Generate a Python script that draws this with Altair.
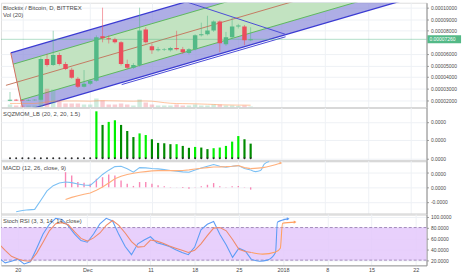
import altair as alt
import pandas as pd

FONT = "Liberation Sans"
TEXT = "#4a4a4a"
GRID = "#eef1f5"
UP, DOWN = "#53b987", "#eb4d5c"
E5 = 1e-5

# ---------------- time axis (days since 20 Nov 2017) ----------------
tick_days = [0, 11, 21, 28, 35, 42, 49, 56, 63]
tick_labels = ["20", "Dec", "11", "18", "25", "2018", "8", "15", "22"]
x_domain = [-2.66, 64.7]

# ---------------- candles (price in 1e-5 BTC) ----------------
days = list(range(-2, 38))
opens = [1.95, 2.03, 2.00, 1.96, 1.98, 2.02, 5.56, 5.04, 5.90, 5.13, 4.62, 3.85, 3.16, 3.42, 3.68,
         7.52, 7.35, 7.26, 7.01, 5.13, 4.79, 5.04, 8.12, 6.67, 6.32, 6.35, 6.32, 6.50, 6.41, 6.07,
         6.41, 7.61, 7.69, 8.03, 8.80, 6.84, 7.44, 8.38, 8.38, 7.18]
closes = [2.03, 1.96, 1.96, 2.00, 2.02, 5.56, 5.04, 5.90, 5.13, 4.70, 3.93, 3.16, 3.42, 3.68, 7.44,
          7.35, 7.26, 7.01, 5.13, 4.79, 5.04, 8.03, 7.01, 6.32, 6.41, 6.41, 6.50, 6.41, 6.15, 6.41,
          7.61, 7.69, 8.03, 8.80, 6.92, 7.44, 8.38, 8.46, 7.18, 7.26]
highs = [2.70, 2.10, 2.05, 2.05, 2.06, 5.70, 6.00, 8.00, 6.10, 5.30, 4.80, 4.00, 4.60, 3.80, 7.60,
         10.0, 7.60, 7.40, 7.10, 5.50, 5.20, 10.0, 8.30, 6.90, 6.60, 6.50, 6.60, 8.00, 6.60, 6.50,
         7.70, 8.70, 9.30, 8.90, 8.90, 7.90, 9.15, 8.60, 8.50, 8.30]
lows = [1.90, 1.92, 1.92, 1.93, 1.95, 1.98, 4.90, 4.95, 5.00, 4.60, 3.85, 3.05, 3.10, 3.30, 3.60,
        7.00, 6.90, 6.90, 5.00, 4.70, 4.70, 4.90, 6.90, 6.00, 6.20, 6.25, 6.20, 6.30, 6.00, 5.95,
        6.30, 7.50, 7.60, 7.90, 6.15, 6.70, 7.30, 8.20, 6.75, 7.10]
volume = [30, 20, 20, 20, 20, 100, 190, 180, 60, 40, 40, 40, 30, 30, 90, 70, 30, 30, 40, 30,
          20, 80, 50, 30, 20, 20, 20, 30, 20, 20, 30, 20, 20, 30, 30, 20, 20, 15, 20, 10]
vol_ma = [40, 40, 40, 40, 40, 45, 55, 63, 64, 65, 65, 65, 64, 63, 66, 68, 67, 66, 65, 64,
          63, 65, 65, 63, 56, 48, 42, 39, 38, 37, 36, 34, 32, 30, 26, 25, 24, 23, 23, 22]

# ---------------- drawn channel (day, price 1e-5) ----------------
chan_mid_day = 11.41          # anchor day of the regression mid line
chan_mid_price = 5.47         # mid line price at the anchor
chan_slope = 0.1559           # price per day
chan_green_half = 1.65        # half width of inner (green) band
chan_blue_half = 2.68         # half width of outer (blue) band
chan_edge_day = -1.875        # left edge starts at blue upper line on this day
chan_edge_slope = -2.505      # slope of the slanted left edge (price per day)
chan_end_day = 64.7
mid_start_day = -2.66
desc_line = [(20.78, 11.52), (42.66, 7.69)]
lower2_line = [(16.1, 3.34), (42.66, 7.48)]

# ---------------- SQZMOM ----------------
sqz_days = list(range(12, 38))
sqz_vals = [5.14, 3.65, 3.98, 4.16, 3.65, 2.97, 2.32, 2.72, 2.54, 2.08, 1.68, 1.64, 1.54, 1.54,
            1.35, 1.14, 1.24, 1.17, 1.00, 1.10, 1.17, 1.35, 1.82, 2.43, 2.08, 1.60]
sqz_colors = ["#00f000", "#008a00", "#00f000", "#00f000", "#008a00", "#008a00", "#008a00", "#00f000",
              "#00f000", "#008a00", "#008a00", "#008a00", "#008a00", "#00f000", "#008a00", "#008a00",
              "#00f000", "#008a00", "#008a00", "#00f000", "#00f000", "#00f000", "#00f000", "#00f000",
              "#008a00", "#008a00"]

# ---------------- MACD (1e-5) ----------------
macd_days = list(range(-1, 38))
macd_vals = [-1.70, -1.62, -1.57, -1.54, -0.90, -0.25, 0.12, 0.30, 0.37, 0.33, 0.24, 0.17, 0.14,
             0.50, 0.90, 1.20, 1.45, 1.47, 1.30, 1.06, 1.38, 1.36, 1.32, 1.29, 1.24, 1.18, 1.12,
             1.08, 1.06, 1.22, 1.35, 1.48, 1.59, 1.47, 1.40, 1.48, 1.52, 1.32, 1.21]
sig_days = list(range(7, 38))
sig_vals = [-0.85, -0.70, -0.58, -0.48, -0.39, -0.20, 0.02, 0.30, 0.60, 0.78, 0.90, 0.98, 1.05,
            1.10, 1.15, 1.17, 1.17, 1.17, 1.17, 1.18, 1.22, 1.28, 1.33, 1.38, 1.42, 1.43, 1.45,
            1.48, 1.52, 1.38, 1.31]
hist_vals = [1.06, 0.83, 0.37, 0.32, 0.25, 0.60, 0.71, 0.90, 0.83, 0.48, 0.25, 0.10, 0.37, 0.37,
             0.25, 0.14, 0.07, 0.02, 0.01, -0.05, -0.09, 0.02, 0.07, 0.18, 0.30, 0.07, 0.02, 0.07,
             0.09, -0.02, -0.16]
macd_proj_d = [37, 37.8, 38.6, 39.2, 40.0]
macd_proj_v = [1.21, 1.10, 1.17, 1.63, 1.81]
sig_proj_d = [37, 39.0, 41.9]
sig_proj_v = [1.31, 1.38, 1.70]

# ---------------- Stoch RSI ----------------
st_days = list(range(-3, 38))
st_k = [24, 15, 18, 22, 13, 17, 42, 68, 86, 97, 95, 83, 68, 56, 53, 68, 87, 97, 92, 67,
        45, 30, 50, 57, 63, 52, 49, 45, 39, 34, 30, 44, 76, 86, 91, 67, 48, 25, 42, 37, 21]
st_d = [50, 38, 27, 22, 19, 18, 33, 53, 74, 87, 89, 85, 72, 60, 55, 61, 70, 84, 93, 84,
        70, 54, 44, 45, 57, 55, 51, 46, 42, 38, 34, 38, 50, 65, 79, 80, 74, 58, 40, 36, 34]
k_proj_d = [37, 38.3, 39.5, 40.8, 41.1, 42.8]
k_proj_v = [21, 18, 20, 34, 90, 96]
d_proj_d = [37, 38.75, 40.8, 41.56, 41.9, 43.9]
d_proj_v = [34, 31, 35, 42, 88, 90]
stoch_band = [20, 80]

# ======================================================================
lbl_expr = "''"
for v, t in reversed(list(zip(tick_days, tick_labels))):
    lbl_expr = f"datum.value == {v} ? '{t}' : ({lbl_expr})"


def xax(labels):
    common = dict(values=tick_days, grid=True, gridColor=GRID, gridWidth=1, ticks=False,
                  title=None, domain=True)
    if labels:
        return alt.Axis(**common, domainColor="#9a9a9a", domainWidth=1, labels=True,
                        labelExpr=lbl_expr, labelFont=FONT, labelFontSize=5.5, labelColor=TEXT,
                        labelPadding=2, labelOverlap=False, labelFlush=False)
    return alt.Axis(**common, domainColor="#cdcdcd", domainWidth=2, labels=False)


def xenc(labels=False, field="d"):
    return alt.X(f"{field}:Q", scale=alt.Scale(domain=x_domain, nice=False, zero=False),
                 axis=xax(labels))


def yax(values, fmt=None, expr=None):
    kw = dict(orient="right", values=values, grid=True, gridColor=GRID, tickSize=2,
              tickColor="#9a9a9a", domain=True, domainColor="#8c8c8c", domainWidth=1,
              labelFont=FONT, labelFontSize=5, labelColor=TEXT, labelPadding=2, title=None,
              labelOverlap=False)
    if fmt:
        kw["format"] = fmt
    if expr:
        kw["labelExpr"] = expr
    return alt.Axis(**kw)


def yenc(field, dom, axis):
    return alt.Y(f"{field}:Q", scale=alt.Scale(domain=dom, nice=False, zero=False), axis=axis)


def title_text(txt, y):
    return alt.Chart(pd.DataFrame({"t": [txt]})).mark_text(
        align="left", baseline="middle", font=FONT, fontSize=6, color=TEXT
    ).encode(x=alt.value(2), y=alt.value(y), text="t:N")


# ---------------- channel geometry ----------------
def chan(off, d):
    return chan_mid_price + chan_slope * (d - chan_mid_day) + off


edge_v0 = chan(chan_blue_half, chan_edge_day)


def edge_hit(off):
    # day where the line (mid + off) meets the slanted left edge
    return ((edge_v0 - chan_edge_slope * chan_edge_day - chan_mid_price
             + chan_slope * chan_mid_day - off) / (chan_slope - chan_edge_slope))


def band_poly(half):
    d_top, d_bot = edge_hit(half), edge_hit(-half)
    ds = [d_top, d_bot, chan_end_day]
    hi = [chan(half, d) for d in ds]
    lo = [chan(half, d_top), chan(-half, d_bot), chan(-half, chan_end_day)]
    return pd.DataFrame({"d": ds, "hi": [v * E5 for v in hi], "lo": [v * E5 for v in lo]})


pur = band_poly(chan_blue_half)
grn = band_poly(chan_green_half)

channel_lines = {
    "blue_upper": [(edge_hit(chan_blue_half), chan(chan_blue_half, edge_hit(chan_blue_half))),
                   (chan_end_day, chan(chan_blue_half, chan_end_day))],
    "blue_lower": [(edge_hit(-chan_blue_half), chan(-chan_blue_half, edge_hit(-chan_blue_half))),
                   (chan_end_day, chan(-chan_blue_half, chan_end_day))],
    "green_upper": [(edge_hit(chan_green_half), chan(chan_green_half, edge_hit(chan_green_half))),
                    (chan_end_day, chan(chan_green_half, chan_end_day))],
    "green_lower": [(edge_hit(-chan_green_half), chan(-chan_green_half, edge_hit(-chan_green_half))),
                    (chan_end_day, chan(-chan_green_half, chan_end_day))],
    "mid": [(mid_start_day, chan(0, mid_start_day)), (chan_end_day, chan(0, chan_end_day))],
    "left_edge": [(edge_hit(chan_blue_half), chan(chan_blue_half, edge_hit(chan_blue_half))),
                  (edge_hit(-chan_blue_half), chan(-chan_blue_half, edge_hit(-chan_blue_half)))],
    "desc": desc_line,
    "lower2": lower2_line,
}
line_style = {
    "blue_upper": ("#3b3bd2", 1.3), "blue_lower": ("#3b3bd2", 1.3), "left_edge": ("#d2705e", 1.0),
    "green_upper": ("#5cb85c", 1.0), "green_lower": ("#5cb85c", 1.0), "mid": ("#c47a62", 1.0),
    "desc": ("#4a4ad6", 1.0), "lower2": ("#4a4ad6", 1.0),
}
rows = []
for name, pts in channel_lines.items():
    for dd, vv in pts:
        rows.append({"id": name, "d": dd, "v": vv * E5, "col": line_style[name][0],
                     "w": line_style[name][1]})
ldf = pd.DataFrame(rows)

# ---------------- main panel ----------------
price_dom = [1.368e-5, 10.427e-5]
price_ax = yax([k * 1e-5 for k in (2, 3, 4, 5, 6, 8, 9, 10)], fmt=".8f")

cdf = pd.DataFrame({"d": days, "o": [v * E5 for v in opens], "c": [v * E5 for v in closes],
                    "h": [v * E5 for v in highs], "l": [v * E5 for v in lows],
                    "vol": volume, "vma": vol_ma, "z": 0})
cdf["col"] = [UP if c >= o else DOWN for o, c in zip(opens, closes)]

fills = alt.layer(
    alt.Chart(pur).mark_area(color="#9393dc", opacity=0.75, clip=True).encode(
        x=xenc(), y=yenc("hi", price_dom, price_ax), y2="lo:Q"),
    alt.Chart(grn).mark_area(color="#c4e9bd", opacity=0.9, clip=True).encode(
        x=xenc(), y=yenc("hi", price_dom, price_ax), y2="lo:Q"),
    alt.Chart(ldf).mark_line(clip=True).encode(
        x=xenc(), y=yenc("v", price_dom, price_ax), detail="id:N",
        color=alt.Color("col:N", scale=None), strokeWidth=alt.StrokeWidth("w:Q", scale=None)),
)

vol_dom = [0, 1060]
vol_layer = alt.layer(
    alt.Chart(cdf).mark_bar(size=4.5, opacity=0.28, clip=True).encode(
        x=xenc(), y=yenc("vol", vol_dom, None), y2="z:Q", color=alt.Color("col:N", scale=None)),
    alt.Chart(cdf).mark_line(color="#ff9350", opacity=0.55, strokeWidth=1, clip=True).encode(
        x=xenc(), y=yenc("vma", vol_dom, None)),
)

last_close = closes[-1] * E5
tag = pd.DataFrame({"p": [last_close], "t": [f"{last_close:.8f}"]})

candles = alt.layer(
    alt.Chart(tag).mark_rule(color=UP, opacity=0.45, strokeWidth=1).encode(
        y=yenc("p", price_dom, None)),
    alt.Chart(cdf).mark_rule(strokeWidth=1, opacity=0.55, clip=True).encode(
        x=xenc(), y=yenc("h", price_dom, None), y2="l:Q", color=alt.Color("col:N", scale=None)),
    alt.Chart(cdf).mark_bar(size=4.5, clip=True).encode(
        x=xenc(), y=yenc("o", price_dom, None), y2="c:Q", color=alt.Color("col:N", scale=None)),
    alt.Chart(tag).mark_rule(color=UP, strokeWidth=8).encode(
        x=alt.value(432), x2=alt.value(466), y=yenc("p", price_dom, None)),
    alt.Chart(tag).mark_text(align="left", baseline="middle", font=FONT, fontSize=5,
                             color="white").encode(
        x=alt.value(434), y=yenc("p", price_dom, None), text="t:N"),
    title_text("Blocktix / Bitcoin, D, BITTREX", 5),
    title_text("Vol (20)", 12),
)

main = alt.layer(fills, vol_layer, candles).resolve_scale(y="independent").properties(
    width=431, height=106)

# ---------------- SQZMOM panel ----------------
sqz_dom = [-0.27e-5, 5.57e-5]
sqz_ax = yax([0, 2e-5, 4e-5], fmt=".4f")
sdf = pd.DataFrame({"d": sqz_days, "v": [v * E5 for v in sqz_vals], "col": sqz_colors, "z": 0})
dots = pd.DataFrame({"d": days, "z": 0.0})
sqz = alt.layer(
    alt.Chart(sdf).mark_bar(size=2.2).encode(
        x=xenc(), y=yenc("v", sqz_dom, sqz_ax), y2="z:Q", color=alt.Color("col:N", scale=None)),
    alt.Chart(dots).mark_point(filled=True, size=4, color="#2b2b2b", opacity=1).encode(
        x=xenc(), y=yenc("z", sqz_dom, sqz_ax)),
    title_text("SQZMOM_LB (20, 2, 20, 1.5)", 7),
).properties(width=431, height=54)

# ---------------- MACD panel ----------------
macd_dom = [-1.862e-5, 1.862e-5]
macd_ax = yax([-1e-5, 0, 1e-5],
              expr="(datum.value < 0 ? '-' : '') + format(abs(datum.value), '.4f')")
mdf = pd.DataFrame({"d": macd_days, "v": [v * E5 for v in macd_vals]})
sgdf = pd.DataFrame({"d": sig_days, "v": [v * E5 for v in sig_vals],
                     "h": [v * E5 for v in hist_vals], "z": 0})
mp = pd.DataFrame({"d": macd_proj_d, "v": [v * E5 for v in macd_proj_v]})
sp = pd.DataFrame({"d": sig_proj_d, "v": [v * E5 for v in sig_proj_v]})
MBLUE, MORANGE = "#7cc0f4", "#ffb07c"
macd = alt.layer(
    alt.Chart(sgdf).mark_bar(size=1.4, color="#f75d9c", opacity=0.75).encode(
        x=xenc(), y=yenc("h", macd_dom, macd_ax), y2="z:Q"),
    alt.Chart(mdf).mark_line(color=MBLUE, strokeWidth=1.1, clip=True).encode(
        x=xenc(), y=yenc("v", macd_dom, macd_ax)),
    alt.Chart(sgdf).mark_line(color=MORANGE, strokeWidth=1.1, clip=True).encode(
        x=xenc(), y=yenc("v", macd_dom, macd_ax)),
    alt.Chart(mp).mark_line(color=MBLUE, strokeWidth=1.1, interpolate="monotone", clip=True).encode(
        x=xenc(), y=yenc("v", macd_dom, macd_ax)),
    alt.Chart(sp).mark_line(color=MORANGE, strokeWidth=1.1, interpolate="monotone", clip=True).encode(
        x=xenc(), y=yenc("v", macd_dom, macd_ax)),
    alt.Chart(sp.tail(1)).mark_point(shape="triangle-right", filled=True, size=10,
                                     color=MORANGE, opacity=1).encode(
        x=xenc(), y=yenc("v", macd_dom, macd_ax)),
    title_text("MACD (12, 26, close, 9)", 7),
).properties(width=431, height=54)

# ---------------- Stoch RSI panel ----------------
st_dom = [10.4, 104.9]
st_ax = yax([20, 40, 60, 80, 100], fmt=".4f")
stdf = pd.DataFrame({"d": st_days, "k": st_k, "dd": st_d})
kp = pd.DataFrame({"d": k_proj_d, "v": k_proj_v})
dp = pd.DataFrame({"d": d_proj_d, "v": d_proj_v})
band = pd.DataFrame({"lo": [stoch_band[0]], "hi": [stoch_band[1]]})
lines_b = pd.DataFrame({"y": stoch_band})
KBLUE, DRED = "#5d9cf5", "#f08a6a"
stoch = alt.layer(
    alt.Chart(band).mark_rect(color="#e4c8fb", opacity=0.85).encode(
        y=yenc("hi", st_dom, st_ax), y2="lo:Q"),
    alt.Chart(lines_b).mark_rule(color="#a48bbb", strokeDash=[3, 2], strokeWidth=1).encode(
        y=yenc("y", st_dom, st_ax)),
    alt.Chart(stdf).mark_line(color=KBLUE, strokeWidth=1.1, clip=True).encode(
        x=xenc(True), y=yenc("k", st_dom, st_ax)),
    alt.Chart(stdf).mark_line(color=DRED, strokeWidth=1.1, clip=True).encode(
        x=xenc(True), y=yenc("dd", st_dom, st_ax)),
    alt.Chart(kp).mark_line(color=KBLUE, strokeWidth=1.1, interpolate="monotone", clip=True).encode(
        x=xenc(True), y=yenc("v", st_dom, st_ax)),
    alt.Chart(dp).mark_line(color="#ffa060", strokeWidth=1.1, interpolate="monotone", clip=True).encode(
        x=xenc(True), y=yenc("v", st_dom, st_ax)),
    alt.Chart(kp.tail(1)).mark_point(shape="triangle-right", filled=True, size=10,
                                     color=KBLUE, opacity=1).encode(
        x=xenc(True), y=yenc("v", st_dom, st_ax)),
    alt.Chart(dp.tail(1)).mark_point(shape="triangle-right", filled=True, size=10,
                                     color="#ffa060", opacity=1).encode(
        x=xenc(True), y=yenc("v", st_dom, st_ax)),
    title_text("Stoch RSI (3, 3, 14, 14, close)", 7),
).properties(width=431, height=52)

chart = alt.vconcat(main, sqz, macd, stoch, spacing=0, bounds="flush").properties(
    padding={"left": 0, "top": 0, "right": 0, "bottom": 0}
).configure_view(stroke=None).configure(background="white")

chart.save("out.html", embed_options={"renderer": "svg", "actions": False})
